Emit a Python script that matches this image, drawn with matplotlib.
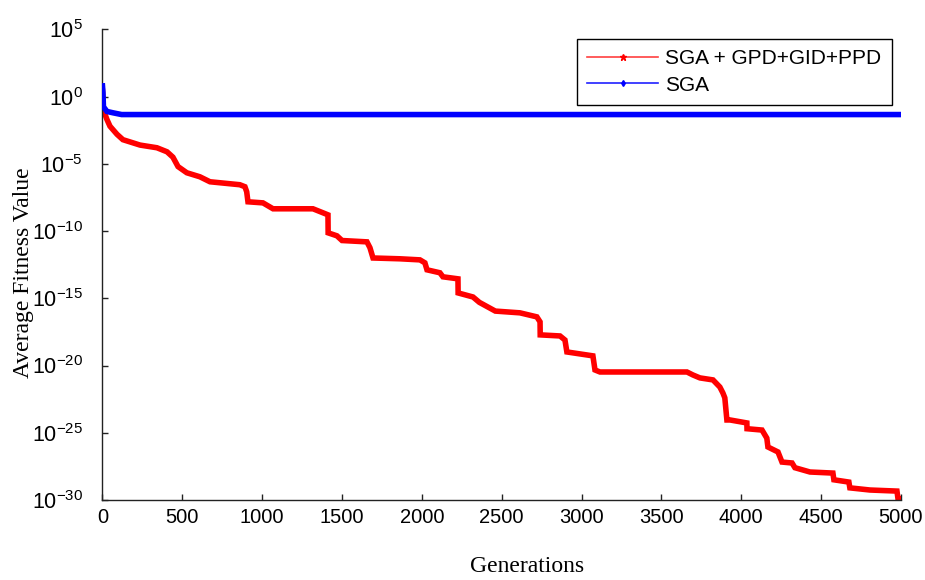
import numpy as np
import matplotlib
matplotlib.use("Agg")
import matplotlib.pyplot as plt
from matplotlib.lines import Line2D
from matplotlib.ticker import FixedLocator, FuncFormatter, NullLocator

plt.rcParams['font.family'] = ['Liberation Sans', 'DejaVu Sans']
plt.rcParams['mathtext.fontset'] = 'custom'
plt.rcParams['mathtext.rm'] = 'Liberation Sans'
plt.rcParams['mathtext.it'] = 'Liberation Sans:italic'
plt.rcParams['mathtext.bf'] = 'Liberation Sans:bold'
plt.rcParams['axes.unicode_minus'] = False

# ---- data (generation, log10 of average fitness) ----
red_label = "SGA + GPD+GID+PPD"
red_gen = [0, 3, 5, 28, 47, 91, 128, 235, 341, 404, 441, 473, 528, 610, 673, 860,
           892, 903, 911, 1005, 1068, 1318, 1381, 1412, 1413, 1468, 1500, 1656, 1675,
           1694, 1863, 1988, 2019, 2032, 2113, 2132, 2226, 2227, 2320, 2360, 2460,
           2614, 2720, 2740, 2741, 2865, 2896, 2908, 3071, 3084, 3115, 3660, 3697,
           3741, 3823, 3866, 3885, 3897, 3910, 3930, 4035, 4036, 4130, 4160, 4167,
           4230, 4255, 4318, 4336, 4430, 4574, 4580, 4674, 4680, 4806, 4975, 4981, 5000]
red_log = [0.4, -0.3, -0.97, -1.7, -2.2, -2.8, -3.2, -3.6, -3.8, -4.1, -4.5, -5.2,
           -5.66, -5.96, -6.33, -6.55, -6.7, -7.07, -7.82, -7.9, -8.34, -8.34, -8.64,
           -8.79, -10.13, -10.35, -10.7, -10.8, -11.24, -12.0, -12.06, -12.14, -12.36,
           -12.88, -13.1, -13.4, -13.55, -14.6, -14.9, -15.3, -15.95, -16.08, -16.38,
           -16.75, -17.72, -17.8, -18.1, -18.99, -19.28, -20.33, -20.48, -20.48, -20.7,
           -20.92, -21.07, -21.6, -22.04, -22.4, -24.05, -24.05, -24.27, -24.7, -24.8,
           -25.4, -26.06, -26.43, -27.18, -27.25, -27.6, -27.92, -28.0, -28.5, -28.67,
           -29.1, -29.26, -29.34, -29.86, -29.93]

blue_label = "SGA"
blue_gen = [0, 3, 6, 28, 66, 120, 5000]
blue_log = [0.8, 0.3, -0.75, -1.1, -1.2, -1.33, -1.33]

x_ticks = [0, 500, 1000, 1500, 2000, 2500, 3000, 3500, 4000, 4500, 5000]
y_exponents = [5, 0, -5, -10, -15, -20, -25, -30]

fig = plt.figure(figsize=(9.25, 5.8), dpi=100)
ax = fig.add_axes([0.1108, 0.138, 0.8632, 0.8112])

ax.plot(red_gen, 10.0 ** np.array(red_log), color='#ff0000', lw=4.0,
        solid_joinstyle='miter', zorder=2)
ax.plot(blue_gen, 10.0 ** np.array(blue_log), color='#0000ff', lw=4.0,
        solid_joinstyle='miter', zorder=3)

ax.set_yscale('log')
ax.set_xlim(0, 5000)
ax.set_ylim(1e-30, 1e5)
ax.xaxis.set_major_locator(FixedLocator(x_ticks))
ax.yaxis.set_major_locator(FixedLocator([10.0 ** e for e in y_exponents]))
ax.yaxis.set_minor_locator(NullLocator())
ax.yaxis.set_major_formatter(FuncFormatter(
    lambda v, p: r'$\mathregular{10^{%d}}$' % int(round(np.log10(v)))))

for s in ['top', 'right']:
    ax.spines[s].set_visible(False)
for s in ['left', 'bottom']:
    ax.spines[s].set_linewidth(1.0)
    ax.spines[s].set_color('#222222')

ax.tick_params(axis='both', which='major', direction='in', length=4, width=1,
               colors='#222222', labelcolor='black')
ax.tick_params(axis='x', pad=6, labelsize=14.5)
ax.tick_params(axis='y', pad=14, labelsize=15.5)

ax.set_xlabel('Generations', fontsize=17, family='Liberation Serif', va='center')
ax.xaxis.set_label_coords(0.532, -0.142)
ax.set_ylabel('Average Fitness Value', fontsize=17, family='Liberation Serif',
              va='center')
ax.yaxis.set_label_coords(-0.099, 0.484)

handles = [Line2D([], [], color='#ff4040', lw=1.2, marker='*', markersize=5,
                  markerfacecolor='#ff0000', markeredgecolor='#ff0000'),
           Line2D([], [], color='#2020ff', lw=1.2, marker='d', markersize=3,
                  markerfacecolor='#0000ff', markeredgecolor='#0000ff')]
leg = ax.legend(handles, [red_label, blue_label], loc='upper right',
                bbox_to_anchor=(892 / 925, 1 - 39 / 580),
                bbox_transform=fig.transFigure, fontsize=15, frameon=True,
                fancybox=False, edgecolor='black', framealpha=1,
                handlelength=3.4, handletextpad=0.35, labelspacing=0.35,
                borderpad=0.5, borderaxespad=0)
leg.get_frame().set_linewidth(1.0)

fig.savefig('out.png', dpi=100)
